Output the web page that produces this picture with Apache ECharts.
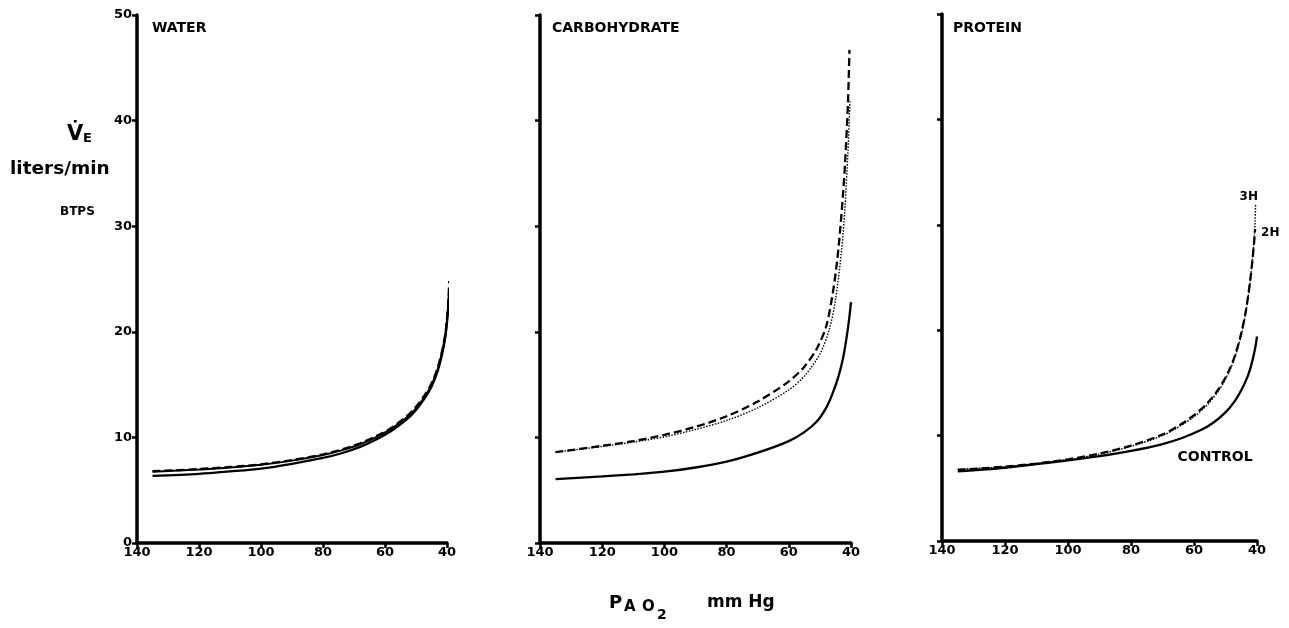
<!DOCTYPE html>
<html>
<head>
<meta charset="utf-8">
<script src="https://cdn.jsdelivr.net/npm/echarts@6/dist/echarts.min.js"></script>
<style>
  html, body { margin: 0; padding: 0; background: #fff; }
  #myChart { width: 1289px; height: 628px; }
</style>
</head>
<body>
<div id="myChart"></div>
<script>
// x 轴刻度 / y 轴刻度
var xTicks = [140, 120, 100, 80, 60, 40];
var yTicks = [0, 10, 20, 30, 40, 50];
var panelNames = ["WATER", "CARBOHYDRATE", "PROTEIN"];

// WATER
var waterX = [135, 120, 110, 100, 90, 80, 74, 68, 63, 58, 53, 50, 47, 45, 43, 41.5, 40.5, 39.9, 39.5, 39.3];
var waterControl = [6.35, 6.55, 6.78, 7.05, 7.5, 8.05, 8.5, 9.1, 9.78, 10.6, 11.7, 12.6, 13.8, 14.8, 16.3, 18.0, 19.6, 21.2, 22.6, 23.6];
var water2H = [6.8, 7.0, 7.2, 7.45, 7.85, 8.4, 8.85, 9.45, 10.1, 10.9, 12.0, 12.9, 14.1, 15.1, 16.6, 18.3, 19.9, 21.6, 23.2, 24.8];
var water3H = [6.75, 6.95, 7.15, 7.4, 7.8, 8.33, 8.77, 9.35, 10.0, 10.8, 11.88, 12.75, 13.95, 14.95, 16.45, 18.15, 19.75, 21.4, 23.0, 24.3];

// CARBOHYDRATE
var carbControlX = [135, 120, 110, 100, 90, 80, 70, 60, 55, 51, 48, 46, 44, 42.5, 41.5, 40.6, 40];
var carbControl = [6.05, 6.3, 6.5, 6.75, 7.15, 7.7, 8.55, 9.65, 10.5, 11.5, 12.8, 14.1, 15.8, 17.6, 19.3, 21.2, 22.8];
var carb2HX = [135, 120, 110, 100, 90, 80, 70, 60, 55, 51, 48, 46, 44.5, 43.5, 42.5, 41.9, 41, 40.5];
var carb2H = [8.6, 9.2, 9.65, 10.25, 11.0, 12.0, 13.4, 15.3, 16.7, 18.4, 20.5, 23.4, 26.6, 29.6, 33.3, 36.0, 41.5, 46.7];
var carb3HX = [135, 120, 110, 100, 90, 80, 70, 60, 55, 50, 47, 45, 43, 42, 41, 40.3];
var carb3H = [8.6, 9.15, 9.55, 10.05, 10.75, 11.6, 12.8, 14.5, 15.8, 17.9, 20.2, 23.0, 27.8, 31.5, 37.0, 42.0];

// PROTEIN
var protControlX = [135, 120, 110, 100, 90, 80, 70, 64, 58, 54, 50, 47, 45, 43, 42, 41, 40.4, 40];
var protControl = [6.6, 6.95, 7.3, 7.65, 8.05, 8.55, 9.2, 9.75, 10.5, 11.2, 12.2, 13.3, 14.3, 15.6, 16.5, 17.7, 18.6, 19.4];
var prot2HX = [135, 120, 110, 100, 90, 80, 70, 64, 60, 56, 52, 49, 47, 45, 43.5, 42.2, 41.4, 40.9, 40.6];
var prot2H = [6.75, 7.05, 7.35, 7.75, 8.3, 9.05, 10.1, 11.1, 11.95, 13.0, 14.5, 16.1, 17.6, 19.7, 21.9, 24.6, 26.8, 28.4, 29.6];
var prot3HX = [135, 120, 110, 100, 90, 80, 70, 64, 60, 56, 52, 49, 47, 45, 43.5, 42.2, 41.4, 40.9, 40.6, 40.45];
var prot3H = [6.8, 7.05, 7.35, 7.72, 8.25, 8.98, 10.0, 10.98, 11.8, 12.85, 14.35, 15.95, 17.45, 19.55, 21.8, 24.6, 26.9, 28.7, 30.3, 32.0];

var FONT = "DejaVu Sans";

function pairs(xs, ys) {
  return xs.map(function (x, i) {
    return [x, ys[i]];
  });
}

// 三个面板的位置
var grids = [
  { left: 137, top: 15, width: 310, height: 528 },
  { left: 540, top: 15, width: 311, height: 528 },
  { left: 942, top: 14, width: 315, height: 527 }
];
var titleLeft = [152, 552, 953];

function lineSeries(idx, data, kind, extra) {
  var style = { color: "#000", width: 2.3, type: "solid" };
  if (kind === "dash") {
    style = { color: "#000", width: 2.3, type: [8, 4] };
  } else if (kind === "dot") {
    style = { color: "#000", width: 1.4, type: [1.5, 1.5] };
  }
  var s = {
    type: "line",
    xAxisIndex: idx,
    yAxisIndex: idx,
    data: data,
    showSymbol: false,
    symbol: "none",
    smooth: 0.3,
    clip: false,
    lineStyle: style,
    silent: true
  };
  for (var k in extra) s[k] = extra[k];
  return s;
}

var myChart = echarts.init(document.getElementById("myChart"), null, { renderer: "canvas" });

myChart.setOption({
  backgroundColor: "#fff",
  animation: false,
  title: panelNames.map(function (name, i) {
    return {
      text: name,
      left: titleLeft[i],
      top: 21,
      padding: 0,
      textStyle: { fontFamily: FONT, fontWeight: "bold", fontSize: 14, color: "#000" }
    };
  }),
  grid: grids,
  xAxis: grids.map(function (g, i) {
    return {
      type: "value",
      gridIndex: i,
      inverse: true,
      min: xTicks[xTicks.length - 1],
      max: xTicks[0],
      interval: 20,
      axisLine: { show: true, onZero: false, lineStyle: { color: "#000", width: 3.5 } },
      axisTick: { show: true, length: 5, lineStyle: { color: "#000", width: 2.5 } },
      axisLabel: { show: true, margin: 3, fontSize: 13, fontFamily: FONT, fontWeight: "bold", color: "#000" },
      splitLine: { show: false }
    };
  }),
  yAxis: grids.map(function (g, i) {
    return {
      type: "value",
      gridIndex: i,
      min: yTicks[0],
      max: yTicks[yTicks.length - 1],
      interval: 10,
      axisLine: { show: true, onZero: false, lineStyle: { color: "#000", width: 3.5 } },
      axisTick: { show: true, length: 5, lineStyle: { color: "#000", width: 2.5 } },
      axisLabel: { show: i === 0, margin: 5, fontSize: 13, fontFamily: FONT, fontWeight: "bold", color: "#000" },
      splitLine: { show: false }
    };
  }),
  series: [
    lineSeries(0, pairs(waterX, waterControl), "solid", {}),
    lineSeries(0, pairs(waterX, water3H), "solid", { lineStyle: { color: "#000", width: 2.0 } }),
    lineSeries(0, pairs(waterX, water2H), "dash", {}),

    lineSeries(1, pairs(carbControlX, carbControl), "solid", {}),
    lineSeries(1, pairs(carb3HX, carb3H), "dot", {}),
    lineSeries(1, pairs(carb2HX, carb2H), "dash", {}),

    lineSeries(2, pairs(protControlX, protControl), "solid", {
      markPoint: {
        symbol: "circle",
        symbolSize: 0,
        silent: true,
        data: [{ coord: [53.3, 7.9] }],
        label: { show: true, formatter: "CONTROL", position: "inside", fontSize: 14, fontFamily: FONT, fontWeight: "bold", color: "#000" }
      }
    }),
    lineSeries(2, pairs(prot3HX, prot3H), "dot", {
      endLabel: { show: true, formatter: "3H", distance: 0, align: "left", verticalAlign: "middle", offset: [-16, -7], fontSize: 12, fontFamily: FONT, fontWeight: "bold", color: "#000" }
    }),
    lineSeries(2, pairs(prot2HX, prot2H), "dash", {
      endLabel: { show: true, formatter: "2H", distance: 5, align: "left", verticalAlign: "middle", offset: [11, 4], fontSize: 12, fontFamily: FONT, fontWeight: "bold", color: "#000" }
    })
  ],
  graphic: [
    // y 轴标题
    { type: "text", left: 67, top: 124, style: { text: "V\u0307", font: "bold 21px " + FONT, fill: "#000" } },
    { type: "text", left: 83, top: 132, style: { text: "E", font: "bold 13px " + FONT, fill: "#000" } },
    { type: "text", left: 10, top: 160, style: { text: "liters/min", font: "bold 18.5px " + FONT, fill: "#000" } },
    { type: "text", left: 60, top: 206, style: { text: "BTPS", font: "bold 12px " + FONT, fill: "#000" } },
    // x 轴标题
    { type: "text", left: 609, top: 594, style: { text: "P", font: "bold 18px " + FONT, fill: "#000" } },
    { type: "text", left: 624, top: 600, style: { text: "A", font: "bold 15px " + FONT, fill: "#000" } },
    { type: "text", left: 642, top: 600, style: { text: "O", font: "bold 15px " + FONT, fill: "#000" } },
    { type: "text", left: 657, top: 608, style: { text: "2", font: "bold 14px " + FONT, fill: "#000" } },
    { type: "text", left: 707, top: 594, style: { text: "mm Hg", font: "bold 17px " + FONT, fill: "#000" } }
  ]
});
</script>
</body>
</html>
